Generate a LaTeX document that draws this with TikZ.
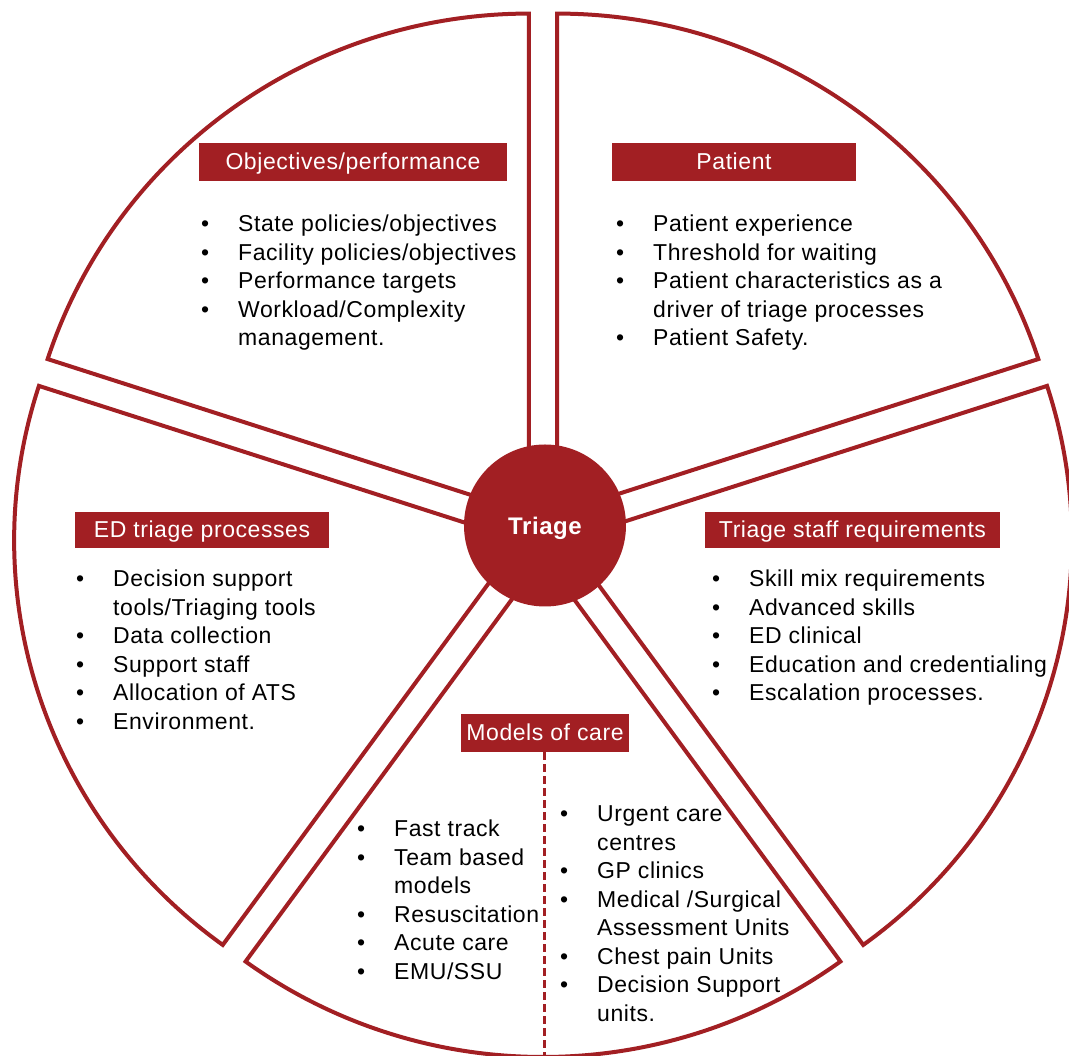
\documentclass[tikz,border=0pt]{standalone}
\usepackage{fontspec}
\setmainfont[LetterSpace = 2.5]{Liberation Sans}

\definecolor{triagered}{RGB}{162,31,35}
\newcommand{\bul}{\makebox[37pt][l]{\textbullet}}

\begin{document}
\begin{tikzpicture}[x = 1pt, y = 1pt,
  sector/.style = {draw = triagered, line width = 4pt, fill = white},
  title/.style = {fill = triagered, text = white, inner sep = 0pt, minimum height = 38pt, text depth = 0.15em, font = \fontsize{23}{26}\selectfont},
  items/.style = {anchor = base west, inner sep = 0pt, font = \fontsize{23}{28.5}\selectfont}]
\useasboundingbox (-543, -523) rectangle (526, 533);

% five pieces of the pie, pulled apart
\foreach \b in {126, 54, 342, 270, 198}
  \draw[sector] (\b:24) -- ++({\b-36}:506 and 500) arc[start angle = \b-36, end angle = \b+36, x radius = 506, y radius = 500] -- cycle;

\node[circle, fill = triagered, text = white, minimum size = 162pt, text depth = 0pt, font = \fontsize{24}{28}\selectfont\bfseries] (triage) at (2, 7.5) {Triage};

% headings
\node[title, minimum width = 308pt] (objectives) at (-190, 371) {Objectives/performance};
\node[title, minimum width = 244pt] (patient) at (191, 371) {Patient};
\node[title, minimum width = 254pt, minimum height = 36pt] (edtriage) at (-341, 3) {ED triage processes};
\node[title, minimum width = 295pt, minimum height = 36pt] (staff) at (309.5, 3) {Triage staff requirements};
\node[title, minimum width = 168pt] (models) at (2, -200) {Models of care};

% lists
\node[items] (objlist) at (-342, 301) {\begin{tabular}[t]{@{}l@{}l@{}}
\bul & State policies/objectives\\
\bul & Facility policies/objectives\\
\bul & Performance targets\\
\bul & Workload/Complexity\\
 & management.
\end{tabular}};
\node[items] (patlist) at (73, 301) {\begin{tabular}[t]{@{}l@{}l@{}}
\bul & Patient experience\\
\bul & Threshold for waiting\\
\bul & Patient characteristics as a\\
 & driver of triage processes\\
\bul & Patient Safety.
\end{tabular}};
\node[items] (edlist) at (-467, -54) {\begin{tabular}[t]{@{}l@{}l@{}}
\bul & Decision support\\
 & tools/Triaging tools\\
\bul & Data collection\\
\bul & Support staff\\
\bul & Allocation of ATS\\
\bul & Environment.
\end{tabular}};
\node[items] (stafflist) at (169, -54) {\begin{tabular}[t]{@{}l@{}l@{}}
\bul & Skill mix requirements\\
\bul & Advanced skills\\
\bul & ED clinical\\
\bul & Education and credentialing\\
\bul & Escalation processes.
\end{tabular}};
\node[items] (inlist) at (-186, -304) {\begin{tabular}[t]{@{}l@{}l@{}}
\bul & Fast track\\
\bul & Team based\\
 & models\\
\bul & Resuscitation\\
\bul & Acute care\\
\bul & EMU/SSU
\end{tabular}};
\node[items] (outlist) at (17, -289) {\begin{tabular}[t]{@{}l@{}l@{}}
\bul & Urgent care\\
 & centres\\
\bul & GP clinics\\
\bul & Medical /Surgical\\
 & Assessment Units\\
\bul & Chest pain Units\\
\bul & Decision Support\\
 & units.
\end{tabular}};

\coordinate (bottom) at (0, -523);
\draw[triagered, line width = 3pt, dash pattern = on 8pt off 4pt] (models.south) -- (models.south |- bottom);
\end{tikzpicture}
\end{document}
